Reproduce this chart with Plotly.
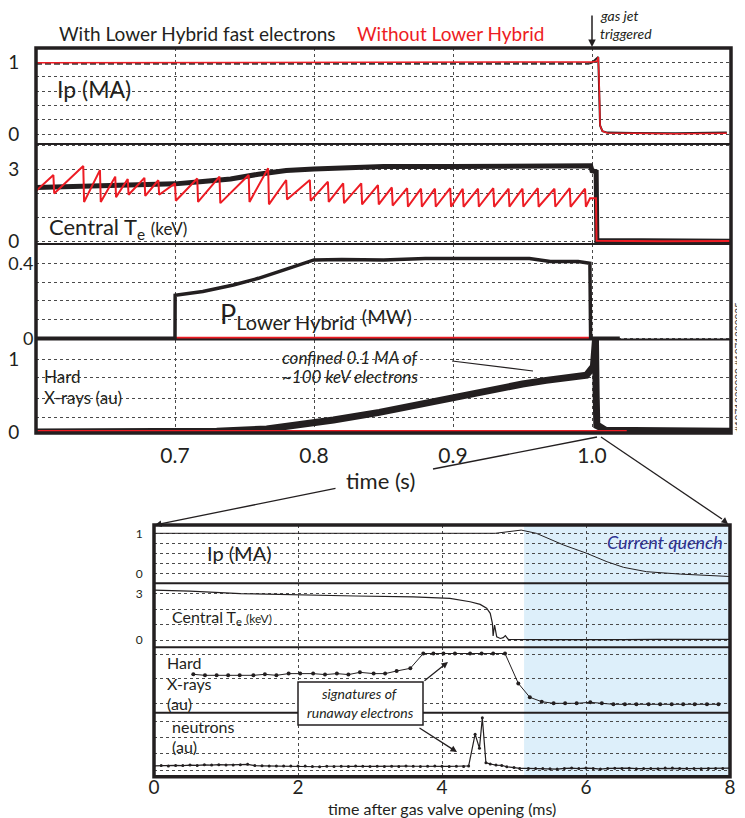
import plotly.graph_objects as go

# The page body has an 8px margin, so the figure is drawn 8px in from the window corner.
OFF = 8
W, H = 745 - OFF, 818 - OFF
def px(x): return (x - OFF) / W
def py(y): return 1 - (y - OFF) / H

RED = '#ed1c24'
BLK = '#231f20'
BLUE_TXT = '#2e3192'
SHADE = '#ddeffa'
FONT = 'Lato'
GRID = '#4a4a4a'

# ================= DATA : top block (time in s) =================
# Plasma current (MA)
ip_lh_t = [0.6, 0.65, 0.7, 0.75, 0.8, 0.85, 0.9, 0.95, 0.998]
ip_lh_v = [0.99, 0.99, 0.985, 0.99, 0.985, 0.99, 0.985, 0.99, 0.99]
ip_lh_q_t = [0.998, 1.0, 1.0045, 1.0052, 1.0058, 1.0075, 1.011, 1.03, 1.06, 1.097]
ip_lh_q_v = [0.99, 1.0, 1.08, 0.7, 0.12, 0.04, 0.02, 0.015, 0.01, 0.02]
ip_ref_t = [0.6, 0.64, 0.641, 0.7, 0.8, 0.9, 0.95, 1.0, 1.0035, 1.0045, 1.0052, 1.0058, 1.0075, 1.011, 1.03, 1.06, 1.097]
ip_ref_v = [1.0, 1.0, 1.01, 1.01, 1.01, 1.01, 1.01, 1.01, 1.02, 1.08, 0.7, 0.12, 0.04, 0.015, 0.01, 0.005, 0.01]

# Central Te (keV) with LH (dense sawteeth drawn as a band through their mean)
te_lh_t = [0.6, 0.64, 0.68, 0.7, 0.72, 0.74, 0.76, 0.78, 0.8, 0.82, 0.85, 0.9, 0.95, 0.999, 1.0, 1.003, 1.0035, 1.05, 1.1]
te_lh_v = [2.25, 2.3, 2.35, 2.4, 2.5, 2.6, 2.8, 2.95, 3.02, 3.08, 3.12, 3.12, 3.12, 3.15, 2.95, 2.9, 0.05, 0.02, 0.02]
# Central Te without LH: sawtooth crashes
te_ref_crash_t = [0.6125, 0.634, 0.646, 0.657, 0.666, 0.678, 0.688, 0.700, 0.716, 0.732, 0.753, 0.767, 0.780, 0.797,
                  0.810, 0.821, 0.834, 0.846, 0.856, 0.867, 0.877, 0.887, 0.898, 0.907, 0.918, 0.929, 0.940, 0.950,
                  0.961, 0.973, 0.984, 0.995]
te_ref_top = [2.77, 3.14, 2.97, 2.7, 2.6, 2.65, 2.55, 2.42, 2.62, 2.7, 2.77, 3.05, 2.56, 2.56, 2.49, 2.42, 2.42, 2.35,
              2.25, 2.22, 2.2, 2.2, 2.22, 2.2, 2.2, 2.22, 2.2, 2.2, 2.22, 2.2, 2.22, 2.2]
te_ref_bottom = [2.0, 1.65, 1.65, 1.85, 1.95, 1.9, 1.95, 1.7, 1.65, 1.6, 1.65, 1.55, 1.75, 1.7, 1.65, 1.6, 1.55, 1.55,
                 1.5, 1.45, 1.45, 1.45, 1.45, 1.45, 1.45, 1.45, 1.45, 1.45, 1.45, 1.45, 1.45, 1.45]
te_ref_start = 2.1
te_ref_end_t = [0.9986, 1.0029, 1.0033, 1.05, 1.1]
te_ref_end_v = [1.8, 1.8, 0.04, 0.02, 0.03]

# Lower hybrid power (MW)
plh_t = [0.6, 0.7, 0.7001, 0.72, 0.742, 0.76, 0.778, 0.8, 0.82, 0.85, 0.88, 0.9, 0.93, 0.955, 0.97, 0.99, 0.9985, 0.999, 1.02]
plh_v = [0.0, 0.0, 0.23, 0.25, 0.284, 0.32, 0.364, 0.418, 0.42, 0.418, 0.425, 0.426, 0.424, 0.426, 0.41, 0.41, 0.40, 0.0, 0.0]
plh_ref_t = [0.7, 1.0]
plh_ref_v = [0.0, 0.0]

# Hard X-rays (au)
hxr_lh_t = [0.6, 0.709, 0.73, 0.766, 0.8, 0.814, 0.847, 0.88, 0.924, 0.95, 0.967, 0.996, 1.001, 1.0025, 1.003, 1.0035, 1.005, 1.01, 1.03, 1.06, 1.1]
hxr_lh_v = [0.0, 0.0, 0.01, 0.04, 0.12, 0.165, 0.27, 0.4, 0.58, 0.66, 0.71, 0.78, 0.9, 1.27, 0.5, 0.06, 0.08, 0.02, 0.02, 0.01, 0.01]
hxr_ref_t = [0.6, 1.025]
hxr_ref_v = [0.012, 0.012]

# ================= DATA : bottom block (time after gas valve opening, ms) =================
b_ip_t = [0, 4.74, 5.1, 5.31, 5.685, 6.01, 6.29, 6.52, 6.84, 7.31, 8.0]
b_ip_v = [1.0, 1.0, 1.08, 1.0, 0.71, 0.5, 0.29, 0.15, 0.04, -0.02, -0.08]

b_te_t = [0, 0.5, 1.2, 2.0, 2.8, 3.6, 3.83, 4.11, 4.39, 4.53, 4.62, 4.67, 4.70, 4.71, 4.73, 4.76, 4.81, 4.85, 4.88,
          4.92, 5.5, 6.0, 6.5, 7.0, 7.5, 8.0]
b_te_v = [3.22, 3.16, 3.0, 2.9, 2.84, 2.78, 2.75, 2.69, 2.47, 2.3, 2.05, 1.72, 1.08, 0.26, 0.97, 0.21, 0.1, 0.15, 0.28,
          0.04, 0.03, 0.05, 0.03, 0.04, 0.03, 0.04]

b_hxr_t = [0.546, 0.708, 0.87, 1.03, 1.19, 1.38, 1.54, 1.70, 1.87, 2.03, 2.21, 2.375, 2.54, 2.70, 2.86, 3.05, 3.21,
           3.37, 3.56, 3.74, 3.88, 4.02, 4.18, 4.39, 4.55, 4.71, 4.875, 5.06, 5.22, 5.385, 5.55, 5.71, 5.87, 6.06,
           6.22, 6.38, 6.54, 6.70, 6.87, 7.03, 7.19, 7.35, 7.51, 7.68, 7.84]
b_hxr_v = [0.585, 0.565, 0.565, 0.565, 0.565, 0.565, 0.585, 0.565, 0.6, 0.6, 0.6, 0.58, 0.6, 0.58, 0.626, 0.6, 0.6,
           0.653, 0.708, 1.01, 1.01, 1.01, 1.01, 1.01, 1.01, 1.01, 1.01, 0.40, 0.116, 0.027, -0.007, -0.007, -0.007,
           0.014, -0.007, -0.027, -0.027, -0.027, -0.027, -0.027, -0.027, -0.027, -0.027, -0.027, -0.027]

b_n_t = [0.0, 0.1, 0.2, 0.3, 0.4, 0.5, 0.6, 0.7, 0.8, 0.9, 1.0, 1.1, 1.2, 1.3, 1.4, 1.5, 1.6, 1.7, 1.8, 1.9, 2.0,
         2.1, 2.2, 2.3, 2.4, 2.5, 2.6, 2.7, 2.8, 2.9, 3.0, 3.1, 3.2, 3.3, 3.4, 3.5, 3.6, 3.7, 3.8, 3.9, 4.0, 4.1,
         4.2, 4.3, 4.37, 4.46, 4.52, 4.56, 4.61, 4.67, 4.75, 4.83, 4.9, 5.0, 5.08, 5.2, 5.3, 5.4, 5.5, 5.6, 5.7,
         5.8, 5.9, 6.0, 6.1, 6.2, 6.3, 6.4, 6.5, 6.6, 6.7, 6.8, 6.9, 7.0, 7.1, 7.2, 7.3, 7.4, 7.5, 7.6, 7.7, 7.8,
         7.9, 8.0]
b_n_v = [0.25, 0.27, 0.25, 0.28, 0.27, 0.3, 0.28, 0.32, 0.3, 0.33, 0.31, 0.3, 0.33, 0.35, 0.27, 0.26, 0.25, 0.24,
         0.25, 0.24, 0.25, 0.24, 0.22, 0.2, 0.23, 0.21, 0.23, 0.22, 0.24, 0.23, 0.22, 0.23, 0.22, 0.23, 0.22, 0.24,
         0.23, 0.22, 0.23, 0.24, 0.23, 0.22, 0.23, 0.22, 0.25, 2.2, 1.33, 3.2, 0.45, 0.37, 0.3, 0.28, 0.2, 0.15, 0.1,
         0.1, 0.09, 0.1, 0.08, 0.06, 0.1, 0.12, 0.09, 0.12, 0.1, 0.06, 0.1, 0.11, 0.1, 0.11, 0.08, 0.09, 0.1, 0.07,
         0.12, 0.13, 0.1, 0.09, 0.1, 0.08, 0.09, 0.1, 0.1, 0.12]

quench_start_ms = 5.14

top_xticks = [0.7, 0.8, 0.9, 1.0]
top_xtick_text = ['0.7', '0.8', '0.9', '1.0']
bot_xticks = [0, 2, 4, 6, 8]

# ================= build red sawtooth vertices from the read crash values =================
te_ref_x = [0.6]
te_ref_y = [te_ref_start]
for tc, top, bot in zip(te_ref_crash_t, te_ref_top, te_ref_bottom):
    te_ref_x += [tc, tc + 0.0006]
    te_ref_y += [top, bot]
te_ref_x += te_ref_end_t
te_ref_y += te_ref_end_v

# ================= figure =================
fig = go.Figure()

def line(x, y, xa, ya, color, width, dash='solid', mode='lines', msize=0):
    fig.add_trace(go.Scatter(x=x, y=y, xaxis=xa, yaxis=ya, mode=mode,
                             line=dict(color=color, width=width, dash=dash),
                             marker=dict(size=msize, color=color),
                             hoverinfo='skip', showlegend=False))

# top block
line(ip_lh_t, ip_lh_v, 'x', 'y', '#3a3a3a', 2.5, dash='6px,3px')
line(ip_lh_q_t, ip_lh_q_v, 'x', 'y', BLK, 2)
line(ip_ref_t, ip_ref_v, 'x', 'y', RED, 1.5)
line(te_lh_t, te_lh_v, 'x', 'y2', BLK, 5)
line(te_ref_x, te_ref_y, 'x', 'y2', RED, 2)
line(plh_ref_t, plh_ref_v, 'x', 'y3', RED, 3)
line(plh_t, plh_v, 'x', 'y3', BLK, 3.5)
line(hxr_lh_t, hxr_lh_v, 'x', 'y4', BLK, 7)
line(hxr_ref_t, hxr_ref_v, 'x', 'y4', RED, 2)

# bottom block
line(b_ip_t, b_ip_v, 'x2', 'y5', BLK, 1)
line(b_te_t, b_te_v, 'x2', 'y6', BLK, 1.2)
line(b_hxr_t, b_hxr_v, 'x2', 'y7', BLK, 1, mode='lines+markers', msize=4)
line(b_n_t, b_n_v, 'x2', 'y8', BLK, 1.2, mode='lines+markers', msize=3)

grid = dict(showgrid=True, gridcolor=GRID, gridwidth=1, griddash='dot', zeroline=False,
            showline=False, automargin=False, ticks='outside', tickcolor='rgba(0,0,0,0)')

def yax(top, bot, rng, vals, text, fsize, tlen):
    d = dict(grid)
    d.update(domain=[py(bot), py(top)], range=rng, tickvals=vals, ticktext=text,
             tickfont=dict(family=FONT, size=fsize, color=BLK), ticklen=tlen)
    return d

layout_axes = dict(
    xaxis=dict(grid, domain=[px(36), px(731)], range=[0.6, 1.1], anchor='y4', tickvals=top_xticks,
               ticktext=top_xtick_text, tickfont=dict(family=FONT, size=21, color=BLK), ticklen=4),
    yaxis=yax(48, 144, [-0.140, 1.206], [0, 0.2, 0.4, 0.6, 0.8, 1.0], ['0', '', '', '', '', '1'], 19, 12),
    yaxis2=yax(144, 244, [-0.095, 4.054], [0, 1, 2, 3, 4], ['0', '', '', '3', ''], 19, 12),
    yaxis3=yax(244, 339.5, [-0.0064, 0.503], [0, 0.1, 0.2, 0.3, 0.4], ['0', '', '', '', '0.4'], 18, 1),
    yaxis4=yax(339.5, 433, [-0.014, 1.272], [0, 0.2, 0.464, 0.753, 1.0], ['0', '', '', '', '1'], 19, 12),
    xaxis2=dict(grid, domain=[px(154), px(730)], range=[0, 8], anchor='y8', tickvals=bot_xticks,
                tickfont=dict(family=FONT, size=19, color=BLK), ticks='', ticklabelstandoff=-3),
    yaxis5=yax(525, 583.3, [-0.25, 1.2075], [0, 0.25, 0.5, 0.75, 1.0], ['0', '', '', '', '1'], 12, 8),
    yaxis6=yax(583.3, 647.3, [-0.47, 3.66], [0, 1, 2, 3], ['0', '', '', '3'], 12, 8),
    yaxis7=yax(647.3, 712.7, [-0.198, 1.137], [0, 0.5, 1.0], ['', '', ''], 12, 8),
    yaxis8=yax(712.7, 776.7, [-0.41, 3.515], [0, 1, 2, 3], ['', '', '', ''], 12, 8),
)
# the 0.4 label sits nearer the frame in the reference
layout_axes['yaxis3']['ticklabelstandoff'] = -3
for k in ['yaxis', 'yaxis2', 'yaxis3', 'yaxis4']:
    layout_axes[k]['anchor'] = 'x'
for k in ['yaxis5', 'yaxis6', 'yaxis7', 'yaxis8']:
    layout_axes[k]['anchor'] = 'x2'

shapes = []
# quench shading
shapes.append(dict(type='rect', xref='x2', yref='paper', x0=quench_start_ms, x1=8,
                   y0=py(776.7), y1=py(525), fillcolor=SHADE, line=dict(width=0), layer='below'))
def pline(x0, y0, x1, y1, w, color=BLK):
    shapes.append(dict(type='line', xref='paper', yref='paper', x0=px(x0), y0=py(y0), x1=px(x1), y1=py(y1),
                       line=dict(color=color, width=w)))
# top frame
shapes.append(dict(type='rect', xref='paper', yref='paper', x0=px(36), x1=px(731), y0=py(433), y1=py(48),
                   line=dict(color=BLK, width=3.5)))
for yy in [144, 244, 339.5]:
    pline(36, yy, 731, yy, 2)
# bottom frame
shapes.append(dict(type='rect', xref='paper', yref='paper', x0=px(154), x1=px(730), y0=py(776.7), y1=py(525),
                   line=dict(color=BLK, width=3.5)))
for yy in [583.3, 647.3, 712.7]:
    pline(154, yy, 730, yy, 2)
# zoom connector lines
pline(597, 437, 433, 469, 1.3)
pline(601, 437, 722, 519, 1.3)
pline(452, 361, 533, 371, 1.2)
# signatures box
shapes.append(dict(type='rect', xref='paper', yref='paper', x0=px(298), x1=px(423), y0=py(725), y1=py(682),
                   fillcolor='white', line=dict(color=BLK, width=1.5)))

ann = []
def txt(x, y, s, size, color=BLK, xanchor='left', italic=False, angle=0, family=FONT):
    if italic:
        s = '<i>' + s + '</i>'
    ann.append(dict(x=px(x), y=py(y), xref='paper', yref='paper', text=s, showarrow=False,
                    xanchor=xanchor, yanchor='middle', textangle=angle,
                    font=dict(family=family, size=size, color=color)))
def arrow(hx, hy, tx, ty, w=1.3, head=2, size=1.0):
    ann.append(dict(x=px(hx), y=py(hy), xref='paper', yref='paper', ax=tx - hx, ay=ty - hy,
                    axref='pixel', ayref='pixel', text='', showarrow=True, arrowhead=head,
                    arrowsize=size, arrowwidth=w, arrowcolor=BLK, standoff=0, startstandoff=0))

txt(197, 33, 'With Lower Hybrid fast electrons', 19, xanchor='center')
txt(450, 33, 'Without Lower Hybrid', 19, color=RED, xanchor='center')
txt(598, 16, 'gas jet', 14, italic=True)
txt(598, 33, 'triggered', 14, italic=True)
arrow(592, 47, 592, 14, w=1.5)
txt(55, 89, 'Ip (MA)', 23)
txt(47, 228, "Central T<sub>e</sub> <span style='font-size:17px'>(keV)</span>", 22)
txt(218, 316, "P<sub><span style='font-size:20px'>Lower Hybrid</span></sub> <span style='font-size:20px'>(MW)</span>", 27)
txt(42, 377, 'Hard', 17)
txt(42, 398, 'X-rays (au)', 17)
txt(280, 357, 'confined 0.1 MA of', 17, italic=True)
txt(280, 377, '~100 keV electrons', 17, italic=True)
txt(738, 367, '#1071220030,#1071220025', 10, color='#333333', xanchor='center', angle=-90)
txt(380, 480, 'time (s)', 22, xanchor='center')
arrow(155, 525, 337, 488)
arrow(728, 524, 722, 519)

txt(205, 553, 'Ip (MA)', 20)
txt(725, 542, 'Current quench', 18, color=BLUE_TXT, xanchor='right', italic=True)
txt(170, 617, "Central T<sub>e</sub> <span style='font-size:12px'>(keV)</span>", 16)
txt(165, 662, 'Hard', 16)
txt(165, 683, 'X-rays', 16)
txt(165, 703, '(au)', 16)
txt(170, 726, 'neutrons', 16)
txt(170, 746, '(au)', 16)
txt(360, 693, 'signatures of', 14, xanchor='center', italic=True)
txt(360, 712, 'runaway electrons', 14, xanchor='center', italic=True)
arrow(448, 662, 423, 682)
arrow(457, 752, 418, 727)
txt(442, 808, 'time after gas valve opening (ms)', 16, xanchor='center')

fig.update_layout(width=W, height=H, margin=dict(l=0, r=0, t=0, b=0), template='none',
                  paper_bgcolor='white', plot_bgcolor='rgba(0,0,0,0)', showlegend=False,
                  shapes=shapes, annotations=ann, **layout_axes)

fig.write_html('out.html')
